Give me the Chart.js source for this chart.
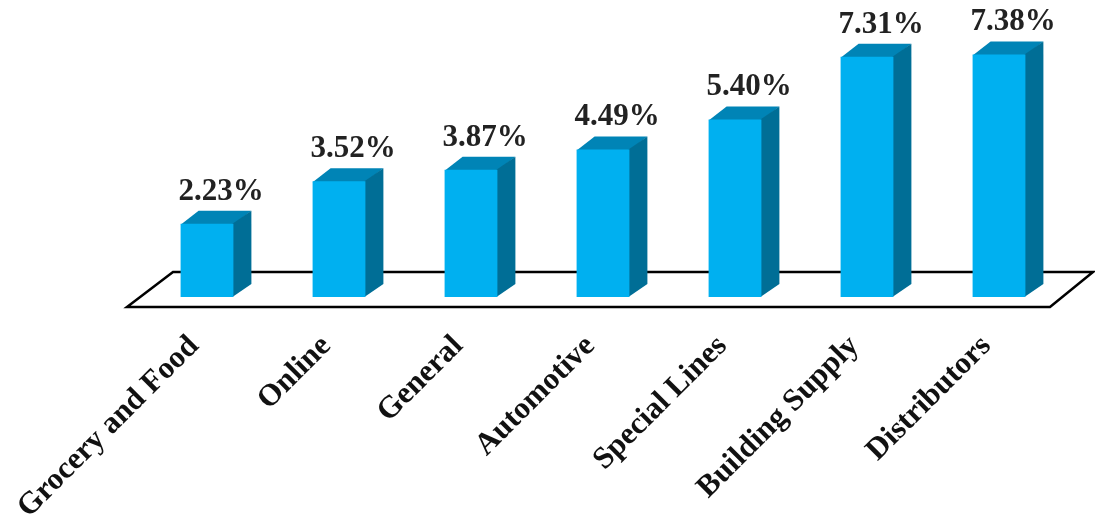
<!DOCTYPE html>
<html>
<head>
<meta charset="utf-8">
<script src="https://cdn.jsdelivr.net/npm/chart.js@4.4.0/dist/chart.umd.min.js"></script>
<style>
  html, body { margin: 0; padding: 0; background: #fff; }
  #wrap { width: 1095px; height: 519px; }
</style>
</head>
<body>
<div id="wrap"><canvas id="chart"></canvas></div>
<script>
let categories = ["Grocery and Food", "Online", "General", "Automotive", "Special Lines", "Building Supply", "Distributors"];
let values = [2.23, 3.52, 3.87, 4.49, 5.40, 7.31, 7.38];
let value_labels = ["2.23%", "3.52%", "3.87%", "4.49%", "5.40%", "7.31%", "7.38%"];

const front_color = '#00b0f0';
const top_color = '#0084b6';
const side_color = '#006e96';
const depth_x = 18;
const depth_y = 13;
const serif = '"Liberation Serif", "Times New Roman", serif';

// floor parallelogram, 3D faces, value labels and slanted category labels
let floor_and_faces = {
    id: 'floorAndFaces',
    beforeDatasetsDraw(chart) {
        let ctx = chart.ctx;
        let area = chart.chartArea;
        let y0 = chart.scales.y.getPixelForValue(0);
        let front = y0 + 10;
        let back = y0 - 25;
        ctx.save();
        ctx.beginPath();
        ctx.moveTo(area.left - 14, front);
        ctx.lineTo(area.right - 15, front);
        ctx.lineTo(area.right + 28, back);
        ctx.lineTo(area.left + 32, back);
        ctx.closePath();
        ctx.lineWidth = 2.5;
        ctx.strokeStyle = '#000';
        ctx.stroke();

        let meta = chart.getDatasetMeta(0);
        meta.data.forEach((bar) => {
            let l = bar.x - bar.width / 2;
            let r = bar.x + bar.width / 2 - 1;
            let t = bar.y;
            let b = bar.base;
            // top face
            ctx.beginPath();
            ctx.moveTo(l, t + 1);
            ctx.lineTo(l + depth_x, t - depth_y);
            ctx.lineTo(r + 1 + depth_x, t - depth_y);
            ctx.lineTo(r + 1, t + 1);
            ctx.closePath();
            ctx.fillStyle = top_color;
            ctx.fill();
            // side face
            ctx.beginPath();
            ctx.moveTo(r, t);
            ctx.lineTo(r + 1 + depth_x, t - depth_y);
            ctx.lineTo(r + 1 + depth_x, b - depth_y);
            ctx.lineTo(r, b);
            ctx.closePath();
            ctx.fillStyle = side_color;
            ctx.fill();
        });
        ctx.restore();
    },
    afterDatasetsDraw(chart) {
        let ctx = chart.ctx;
        let meta = chart.getDatasetMeta(0);
        ctx.save();
        ctx.font = 'bold 31px ' + serif;
        ctx.fillStyle = '#222';
        ctx.textAlign = 'center';
        ctx.textBaseline = 'alphabetic';
        meta.data.forEach((bar, i) => {
            ctx.fillText(value_labels[i], bar.x + 14, bar.y - 24);
        });

        let xs = chart.scales.x;
        let y0 = chart.scales.y.getPixelForValue(0);
        ctx.font = 'bold 31px ' + serif;
        ctx.fillStyle = '#111';
        ctx.textAlign = 'right';
        categories.forEach((c, i) => {
            let x = xs.getPixelForTick(i);
            ctx.save();
            ctx.translate(x - 7, y0 + 50);
            ctx.rotate(-Math.PI / 4);
            ctx.fillText(c, 0, 0);
            ctx.restore();
        });
        ctx.restore();
    }
};

let ctx = document.getElementById('chart');
let chart = new Chart(ctx, {
    type: 'bar',
    data: {
        labels: categories,
        datasets: [{
            data: values,
            backgroundColor: front_color,
            borderWidth: 0,
            categoryPercentage: 1.0,
            barPercentage: 0.4,
        }]
    },
    options: {
        responsive: true,
        maintainAspectRatio: false,
        animation: false,
        layout: { padding: { top: 34, left: 141, right: 30, bottom: 222 } },
        plugins: { legend: { display: false }, tooltip: { enabled: false } },
        scales: {
            x: {
                display: false,
                grid: { display: false },
            },
            y: {
                display: false,
                min: 0,
                max: 8,
            }
        }
    },
    plugins: [floor_and_faces]
});
</script>
</body>
</html>
